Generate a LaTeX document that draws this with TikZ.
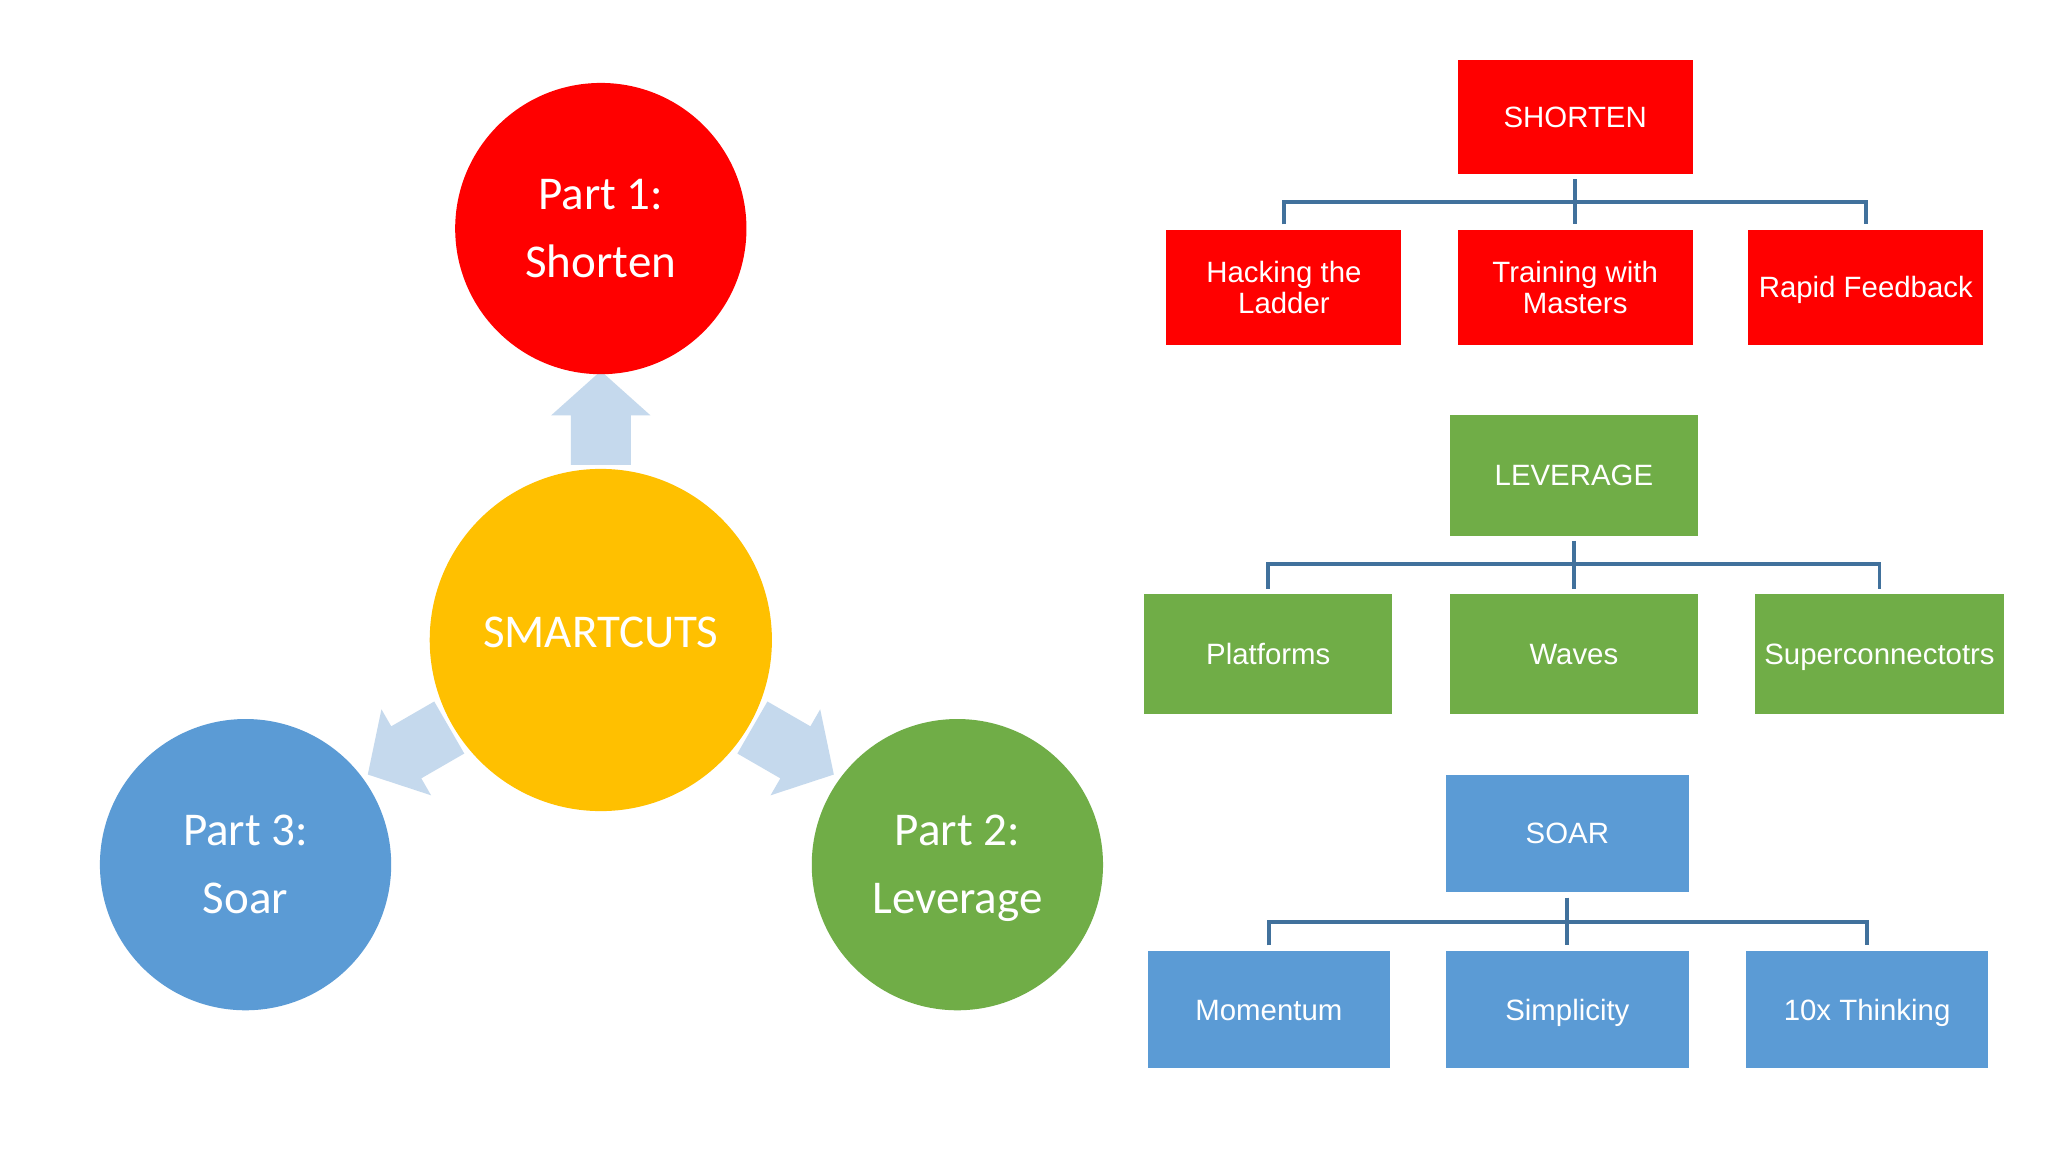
\documentclass[tikz,border=0pt]{standalone}
\usepackage{fontspec}
\newfontfamily\circfont{Carlito}
\newfontfamily\boxfont{Liberation Sans}
\usetikzlibrary{calc}
\definecolor{cred}{RGB}{255,0,0}
\definecolor{cgreen}{RGB}{112,173,71}
\definecolor{cblue}{RGB}{91,155,213}
\definecolor{cyellow}{RGB}{255,192,0}
\definecolor{carrow}{RGB}{197,217,237}
\definecolor{cline}{RGB}{65,113,156}
\begin{document}
\begin{tikzpicture}[x=1pt,y=-1pt,
  circ/.style={circle, minimum size=223pt, inner sep=0pt, text=white, align=center,
    font=\circfont\fontsize{36}{52}\selectfont},
  box/.style={rectangle, inner sep=0pt, text=white, align=center,
    font=\boxfont\fontsize{22.5}{24}\selectfont},
  oneline/.style={text height=16.1pt, text depth=0pt},
  conn/.style={draw=cline, line width=3pt, line join=miter},
  bigarrow/.style={fill=carrow}]
\useasboundingbox[fill=white] (0,0) rectangle (1568,882);

% block arrows
\foreach \r in {0,120,-120} {
  \fill[bigarrow, shift={(460,490)}, rotate=\r]
    (0,-206) -- (38,-172) -- (23,-172) -- (23,-134) -- (-23,-134) -- (-23,-172) -- (-38,-172) -- cycle;
}

% circles
\node[circ, fill=cred, text depth=0pt] (p1) at (460,175) {Part 1:\\Shorten};
\node[circ, fill=cyellow, minimum size=262pt, text height=23pt, text depth=12pt] (sc) at (460,490) {SMARTCUTS};
\node[circ, fill=cblue, text depth=0pt] (p3) at (188,662) {Part 3:\\Soar};
\node[circ, fill=cgreen, text depth=0pt] (p2) at (733,662) {Part 2:\\Leverage};

% row 1
\node[box, oneline, fill=cred, minimum width=180pt, minimum height=87pt] (sh) at (1206,89.5) {SHORTEN};
\node[box, fill=cred, minimum width=180pt, minimum height=88pt] (hack) at (983,220) {Hacking the\\Ladder};
\node[box, fill=cred, minimum width=180pt, minimum height=88pt] (train) at (1206,220) {Training with\\Masters};
\node[box, oneline, fill=cred, minimum width=180pt, minimum height=88pt] (rapid) at (1428.5,220) {Rapid Feedback};
\coordinate (bus1) at (1206,155);
\draw[conn] ([yshift=-4pt]sh.south) -- ([yshift=4pt]train.north);
\draw[conn] ([yshift=4pt]hack.north) |- (bus1) -| ([yshift=4pt]rapid.north);

% row 2
\node[box, oneline, fill=cgreen, minimum width=190pt, minimum height=92pt] (lev) at (1205,364) {LEVERAGE};
\node[box, oneline, fill=cgreen, minimum width=190pt, minimum height=92pt] (plat) at (971,501) {Platforms};
\node[box, oneline, fill=cgreen, minimum width=190pt, minimum height=92pt] (waves) at (1205,501) {Waves};
\node[box, oneline, fill=cgreen, minimum width=190pt, minimum height=92pt] (super) at (1439,501) {Superconnectotrs};
\coordinate (bus2) at (1205,432);
\draw[conn] ([yshift=-4pt]lev.south) -- ([yshift=4pt]waves.north);
\draw[conn] ([yshift=4pt]plat.north) |- (bus2) -| ([yshift=4pt]super.north);

% row 3
\node[box, oneline, fill=cblue, minimum width=186pt, minimum height=90pt] (soar) at (1200,638) {SOAR};
\node[box, oneline, fill=cblue, minimum width=185pt, minimum height=90pt] (mom) at (971.5,773) {Momentum};
\node[box, oneline, fill=cblue, minimum width=186pt, minimum height=90pt] (simp) at (1200,773) {Simplicity};
\node[box, oneline, fill=cblue, minimum width=185pt, minimum height=90pt] (tenx) at (1429.5,773) {10x Thinking};
\coordinate (bus3) at (1200,706);
\draw[conn] ([yshift=-4pt]soar.south) -- ([yshift=4pt]simp.north);
\draw[conn] ([yshift=4pt]mom.north) |- (bus3) -| ([yshift=4pt]tenx.north);
\end{tikzpicture}
\end{document}
